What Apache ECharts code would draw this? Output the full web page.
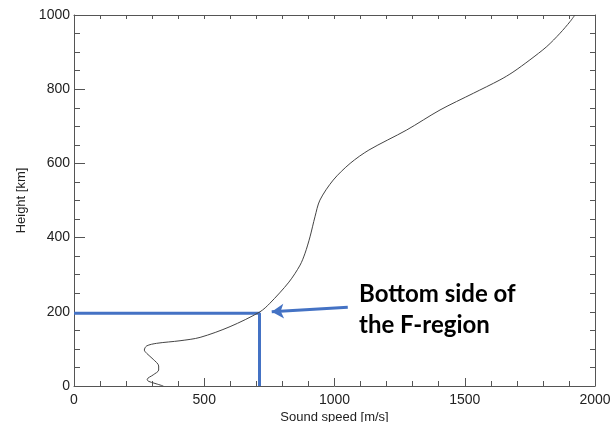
<!DOCTYPE html>
<html>
<head>
<meta charset="utf-8">
<script src="https://cdn.jsdelivr.net/npm/echarts@6/dist/echarts.min.js"></script>
<style>
  html, body { margin: 0; padding: 0; background: #fff; }
  #main { width: 613px; height: 422px; }
</style>
</head>
<body>
<div id="main"></div>
<script>
// sound speed profile [m/s, km]
var soundSpeed = [343, 311, 285, 281, 304, 325, 325, 304, 279, 270, 279, 317, 407, 484, 599, 714, 752, 825, 868, 887, 906, 925, 944, 995, 1060, 1132, 1277, 1405, 1533, 1635, 1685, 1750, 1815, 1866, 1904, 1923];
var height     = [0,   7,   13,  18,  30,  43,  54,  72,  88,  97,  108, 115, 122, 131, 160, 200, 223, 280, 326, 358, 402, 456, 501, 555, 600,  636,  690,  744,  789,  825,  846,  879,  915,  951,  982,  1000];
// F-region bottom marker
var fPoint = [712, 196];
var arrowFrom = [1051, 212];
var arrowTo = [759, 200];
var labelText = ['Bottom side of', 'the F-region'];

window.onload = function () {
    var myChart = echarts.init(document.getElementById('main'));

    var profile = soundSpeed.map(function (v, i) { return [v, height[i]]; });
    var axisColor = '#555';
    var labelStyle = {
        color: '#222', fontFamily: 'Liberation Sans, Arial', fontSize: 14,
        formatter: function (v) { return String(v); }
    };

    var option = {
        animation: false,
        backgroundColor: '#fff',
        grid: { left: 74, right: 18, top: 15, bottom: 36, containLabel: false, outerBoundsMode: 'none' },
        xAxis: [{
            type: 'value', position: 'bottom', min: 0, max: 2000, interval: 500,
            name: 'Sound speed [m/s]', nameLocation: 'middle', nameGap: 25, nameMoveOverlap: false,
            nameTextStyle: { color: '#222', fontFamily: 'Liberation Sans, Arial', fontSize: 13 },
            axisLine: { show: true, onZero: false, lineStyle: { color: axisColor } },
            axisTick: { inside: true, length: 8, lineStyle: { color: axisColor } },
            minorTick: { show: true, splitNumber: 5, length: 5, lineStyle: { color: axisColor } },
            axisLabel: Object.assign({ margin: 7 }, labelStyle),
            splitLine: { show: false }
        }, {
            type: 'value', position: 'top', min: 0, max: 2000, interval: 500,
            axisLine: { show: true, onZero: false, lineStyle: { color: axisColor } },
            axisTick: { inside: true, length: 4, lineStyle: { color: axisColor } },
            minorTick: { show: true, splitNumber: 5, length: 4, lineStyle: { color: axisColor } },
            axisLabel: { show: false },
            splitLine: { show: false }
        }],
        yAxis: [{
            type: 'value', position: 'left', min: 0, max: 1000, interval: 200,
            name: 'Height [km]', nameLocation: 'middle', nameGap: 41, nameRotate: 90,
            nameTextStyle: { color: '#222', fontFamily: 'Liberation Sans, Arial', fontSize: 13 },
            axisLine: { show: true, onZero: false, lineStyle: { color: axisColor } },
            axisTick: { inside: true, length: 11, lineStyle: { color: axisColor } },
            minorTick: { show: true, splitNumber: 4, length: 6, lineStyle: { color: axisColor } },
            axisLabel: Object.assign({ margin: 4 }, labelStyle),
            splitLine: { show: false }
        }, {
            type: 'value', position: 'right', min: 0, max: 1000, interval: 200,
            axisLine: { show: true, onZero: false, lineStyle: { color: axisColor } },
            axisTick: { inside: true, length: 5, lineStyle: { color: axisColor } },
            minorTick: { show: true, splitNumber: 4, length: 5, lineStyle: { color: axisColor } },
            axisLabel: { show: false },
            splitLine: { show: false }
        }],
        series: [{
            type: 'line',
            data: profile,
            smooth: 0.3,
            showSymbol: false,
            lineStyle: { color: '#444', width: 1 },
            z: 3
        }, {
            type: 'line',
            data: [[0, fPoint[1]], fPoint, [fPoint[0], 0]],
            showSymbol: false,
            lineStyle: { color: '#4472C4', width: 3 },
            z: 2,
            markLine: {
                silent: true,
                symbol: ['none', 'arrow'],
                symbolSize: [11, 12],
                label: { show: false },
                lineStyle: { color: '#4472C4', width: 3, type: 'solid' },
                data: [[{ coord: arrowFrom }, { coord: arrowTo }]]
            }
        }],
        graphic: [{
            type: 'text',
            left: 359, top: 279,
            style: {
                text: labelText.join('\n'),
                fill: '#000',
                font: 'bold 24px Lato, "Open Sans", sans-serif',
                lineHeight: 31
            }
        }]
    };
    myChart.setOption(option);
    window.addEventListener('resize', function () {
        myChart.resize();
    });
};
</script>
</body>
</html>
